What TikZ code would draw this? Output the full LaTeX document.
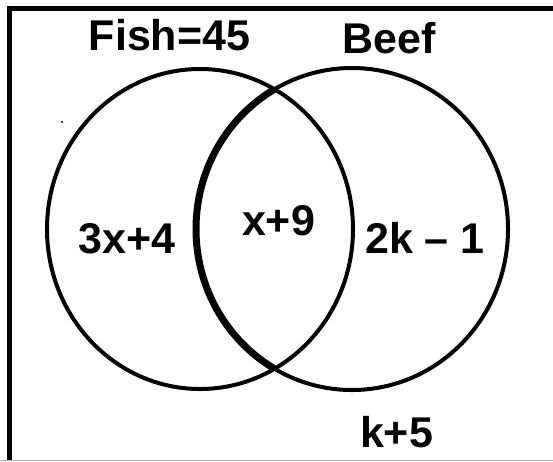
\documentclass[tikz,border=0pt]{standalone}
\usepackage{fontspec}
\setmainfont{Liberation Sans}
\usepackage{tikz}
\usetikzlibrary{positioning}
\definecolor{framegray}{HTML}{B4B4B4}

\begin{document}
\begin{tikzpicture}[
  x=1pt, y=-1pt,
  setlabel/.style={font=\fontsize{43}{43}\selectfont\bfseries, inner sep=0pt, anchor=base},
  setring/.style={draw=black, line width=4pt},
]
  \useasboundingbox (0,0) rectangle (553,461);

  % frame (right and bottom sides run off the picture)
  \draw[line width=4.5pt] (9.5,461) -- (9.5,8.5) -- (553,8.5);
  \draw[framegray, line width=1pt] (0,460.5) -- (553,460.5);

  % the two sets
  \draw[setring] (200,229) ellipse [x radius=153, y radius=160];
  \draw[setring] (352,229) ellipse [x radius=156, y radius=161];
  \begin{scope}
    \clip (200,229) ellipse [x radius=153, y radius=160];
    \draw[line width=7pt] (352,229) ellipse [x radius=156, y radius=161];
  \end{scope}
  \fill (62,122) circle [radius=1.2];

  \node[setlabel] (fish) at (169.5,50) {Fish=45};
  \node[setlabel] (beef) at (389,53) {Beef};

  \node[setlabel] (onlyfish) at (127,253) {3x+4};
  \node[setlabel] (both) at (278.5,235) {x+9};
  \node[setlabel] (onlybeef) at (425,253) {2k – 1};
  \node[setlabel] (neither) at (396.5,447) {k+5};

\end{tikzpicture}
\end{document}
